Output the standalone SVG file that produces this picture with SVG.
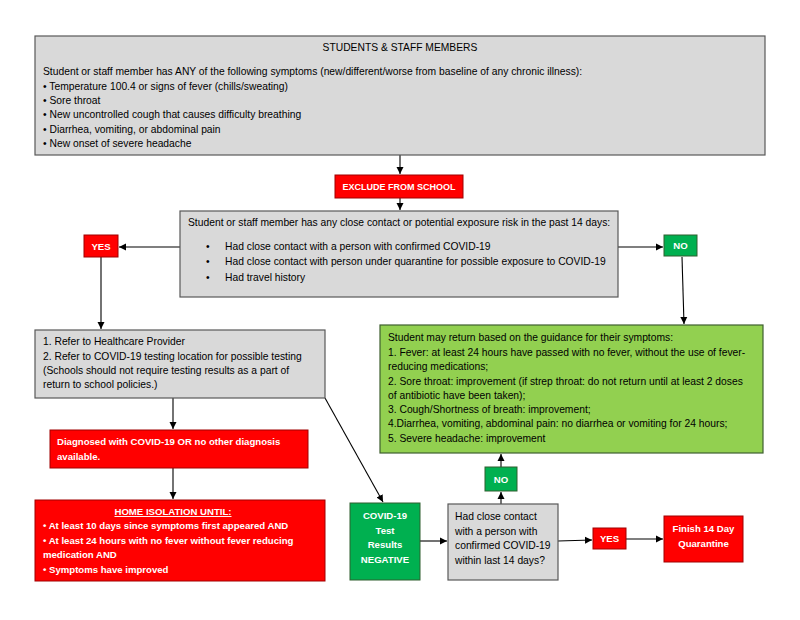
<svg xmlns="http://www.w3.org/2000/svg" width="800" height="620" viewBox="0 0 800 620">
<defs>
<marker id="ah" markerWidth="8" markerHeight="8" refX="7" refY="4" orient="auto" markerUnits="userSpaceOnUse">
<path d="M0,0.5 L7,4 L0,7.5 Z" fill="#000"/>
</marker>
<style>
text{font-family:"Liberation Sans",Arial,sans-serif;font-size:10.3px;fill:#000}
.w{fill:#fff;font-weight:bold;font-size:9.6px}
.c{text-anchor:middle}
.gray{fill:#d9d9d9;stroke:#595959;stroke-width:1.2}
.red{fill:#ff0000;stroke:#a00000;stroke-width:1}
.dg{fill:#00b050;stroke:#2f5f2f;stroke-width:1}
.lg{fill:#92d050;stroke:#3f5f2f;stroke-width:1.2}
.ln{stroke:#000;stroke-width:1.1;fill:none}
</style>
</defs>
<rect width="800" height="620" fill="#fff"/>

<g id="connectors">
<line class="ln" x1="400" y1="155" x2="400" y2="174" marker-end="url(#ah)"/>
<line class="ln" x1="400" y1="198" x2="400" y2="210" marker-end="url(#ah)"/>
<line class="ln" x1="180" y1="247" x2="119" y2="247" marker-end="url(#ah)"/>
<line class="ln" x1="618" y1="247" x2="663" y2="247" marker-end="url(#ah)"/>
<line class="ln" x1="101" y1="257" x2="101" y2="329" marker-end="url(#ah)"/>
<line class="ln" x1="682" y1="257" x2="684" y2="324" marker-end="url(#ah)"/>
<line class="ln" x1="173" y1="398" x2="173" y2="429" marker-end="url(#ah)"/>
<line class="ln" x1="173" y1="468" x2="173" y2="499" marker-end="url(#ah)"/>
<line class="ln" x1="325" y1="398" x2="383" y2="502" marker-end="url(#ah)"/>
<line class="ln" x1="420" y1="541" x2="447" y2="541" marker-end="url(#ah)"/>
<line class="ln" x1="501" y1="504" x2="501" y2="492" marker-end="url(#ah)"/>
<line class="ln" x1="501" y1="467" x2="501" y2="454" marker-end="url(#ah)"/>
<line class="ln" x1="558" y1="541" x2="592" y2="540" marker-end="url(#ah)"/>
<line class="ln" x1="626" y1="539" x2="663" y2="539" marker-end="url(#ah)"/>
</g>

<g id="students">
<rect class="gray" x="35" y="36" width="730" height="119"/>
<text class="c" x="400" y="51">STUDENTS &amp; STAFF MEMBERS</text>
<text x="43" y="75">Student or staff member has ANY of the following symptoms (new/different/worse from baseline of any chronic illness):</text>
<text x="43" y="90">• Temperature 100.4 or signs of fever (chills/sweating)</text>
<text x="43" y="104">• Sore throat</text>
<text x="43" y="118">• New uncontrolled cough that causes difficulty breathing</text>
<text x="43" y="133">• Diarrhea, vomiting, or abdominal pain</text>
<text x="43" y="147">• New onset of severe headache</text>
</g>

<g id="exclude">
<rect class="red" x="335" y="175" width="128" height="23"/>
<text class="w c" x="399" y="190" style="font-size:9px">EXCLUDE FROM SCHOOL</text>
</g>

<g id="contact">
<rect class="gray" x="180" y="211" width="438" height="86"/>
<text x="188" y="226">Student or staff member has any close contact or potential exposure risk in the past 14 days:</text>
<text x="206" y="250">•</text>
<text x="225" y="250">Had close contact with a person with confirmed COVID-19</text>
<text x="206" y="265">•</text>
<text x="225" y="265">Had close contact with person under quarantine for possible exposure to COVID-19</text>
<text x="206" y="281">•</text>
<text x="225" y="281">Had travel history</text>
</g>

<g id="yes1">
<rect class="red" x="84" y="235" width="34" height="22"/>
<text class="w c" x="101" y="249.5">YES</text>
</g>

<g id="no1">
<rect class="dg" x="664" y="235" width="33" height="21"/>
<text class="w c" x="680.5" y="249">NO</text>
</g>

<g id="refer">
<rect class="gray" x="35" y="330" width="290" height="68"/>
<text x="43" y="345">1. Refer to Healthcare Provider</text>
<text x="43" y="360">2. Refer to COVID-19 testing location for possible testing</text>
<text x="43" y="374">(Schools should not require testing results as a part of</text>
<text x="43" y="388">return to school policies.)</text>
</g>

<g id="diagnosed">
<rect class="red" x="50" y="430" width="258" height="38"/>
<text class="w" x="57" y="445">Diagnosed with COVID-19 OR no other diagnosis</text>
<text class="w" x="57" y="460">available.</text>
</g>

<g id="isolation">
<rect class="red" x="35" y="500" width="290" height="81"/>
<text class="w c" x="173" y="515" text-decoration="underline">HOME ISOLATION UNTIL:</text>
<text class="w" x="43" y="529">• At least 10 days since symptoms first appeared AND</text>
<text class="w" x="43" y="544">• At least 24 hours with no fever without fever reducing</text>
<text class="w" x="43" y="558">medication AND</text>
<text class="w" x="43" y="573">• Symptoms have improved</text>
</g>

<g id="return">
<rect class="lg" x="380" y="325" width="383" height="128"/>
<text x="388" y="341">Student may return based on the guidance for their symptoms:</text>
<text x="388" y="356">1. Fever: at least 24 hours have passed with no fever, without the use of fever-</text>
<text x="388" y="370">reducing medications;</text>
<text x="388" y="385">2. Sore throat: improvement (if strep throat: do not return until at least 2 doses</text>
<text x="388" y="399">of antibiotic have been taken);</text>
<text x="388" y="413">3. Cough/Shortness of breath: improvement;</text>
<text x="388" y="427">4.Diarrhea, vomiting, abdominal pain: no diarrhea or vomiting for 24 hours;</text>
<text x="388" y="442">5. Severe headache: improvement</text>
</g>

<g id="negative">
<rect class="dg" x="350" y="503" width="70" height="77"/>
<text class="w c" x="385" y="519">COVID-19</text>
<text class="w c" x="385" y="534">Test</text>
<text class="w c" x="385" y="548">Results</text>
<text class="w c" x="385" y="563">NEGATIVE</text>
</g>

<g id="closecontact">
<rect class="gray" x="448" y="504" width="110" height="76"/>
<text x="455" y="520">Had close contact</text>
<text x="455" y="535">with a person with</text>
<text x="455" y="549">confirmed COVID-19</text>
<text x="455" y="564">within last 14 days?</text>
</g>

<g id="no2">
<rect class="dg" x="485" y="467" width="32" height="24"/>
<text class="w c" x="501" y="482.5">NO</text>
</g>

<g id="yes2">
<rect class="red" x="593" y="528" width="33" height="21"/>
<text class="w c" x="609.5" y="542">YES</text>
</g>

<g id="finish">
<rect class="red" x="664" y="516" width="79" height="46"/>
<text class="w c" x="703.5" y="532">Finish 14 Day</text>
<text class="w c" x="703.5" y="547">Quarantine</text>
</g>
</svg>
